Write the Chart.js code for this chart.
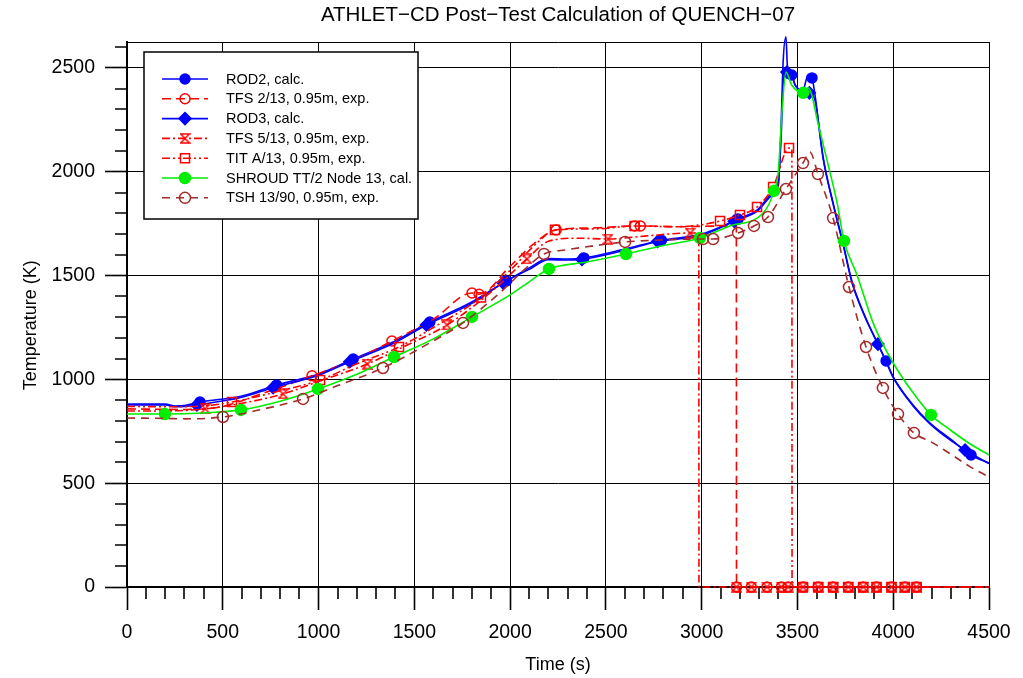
<!DOCTYPE html>
<html><head><meta charset="utf-8">
<script src="https://cdn.jsdelivr.net/npm/chart.js@4.4.0/dist/chart.umd.min.js"></script>
<style>html,body{margin:0;padding:0;background:#fff;overflow:hidden}</style>
</head><body>
<canvas id="c" width="1023" height="678"></canvas>
<script>
// ---------------- data ----------------
const rod2T = [0,200,250,300,381,600,781,1000,1181,1400,1581,1800,1981,2100,2200,2300,2385,2600,2790,3000,3190,3290,3373,3398,3414,3425,3440,3448,3470,3487,3529,3555,3576,3590,3634,3686,3738,3785,3850,3920,3963,4000,4100,4192,4300,4406,4500];
const rod2V = [881,881,872,874,891,920,973,1026,1098,1185,1276,1373,1474,1537,1582,1580,1585,1628,1670,1700,1772,1816,1898,1927,2201,2524,2650,2505,2466,2418,2394,2466,2452,2380,2071,1850,1657,1470,1310,1170,1089,1012,880,790,712,636,597];
const rod2M = [381,781,1181,1581,1981,2385,2790,3190,3470,3576,3963,4406];

const rod3T = [0,200,250,300,365,600,763,1000,1163,1400,1563,1800,1963,2100,2200,2300,2375,2600,2770,3000,3170,3290,3373,3398,3414,3428,3445,3470,3487,3529,3550,3562,3590,3634,3686,3738,3785,3850,3920,3963,4000,4100,4192,4300,4375,4500];
const rod3V = [877,877,869,870,877,914,960,1020,1085,1178,1262,1366,1465,1530,1576,1575,1578,1622,1664,1694,1762,1810,1890,1920,2150,2450,2480,2470,2420,2390,2400,2380,2350,2065,1845,1650,1465,1305,1170,1084,1008,876,786,706,660,594];
const rod3M = [365,763,1163,1563,1963,2375,2770,3170,3445,3562,3920,4375];

const tfs2T = [0,300,500,700,966,1200,1383,1600,1801,1838,2000,2120,2240,2450,2650,2680,2900,3050,3181,3182,3259,3341,3416,3451,3529,3608,3686,3765,3843,3913,3991,4061,4122,4500];
const tfs2V = [858,855,870,930,1017,1100,1185,1290,1416,1410,1545,1650,1720,1730,1739,1739,1735,1738,1735,0,0,0,0,0,0,0,0,0,0,0,0,0,0,0];
const tfs2M = [966,1383,1801,1838,2240,2650,2680,3182,3259,3341,3416,3451,3529,3608,3686,3765,3843,3913,3991,4061,4122];

const tfs5T = [0,200,408,600,815,1000,1254,1450,1670,1900,2088,2200,2350,2511,2700,2940,2985,2986,3181,3259,3341,3416,3451,3529,3608,3686,3765,3843,3913,3991,4061,4122,4500];
const tfs5V = [848,848,858,885,930,990,1074,1160,1262,1420,1580,1665,1680,1676,1690,1705,1705,0,0,0,0,0,0,0,0,0,0,0,0,0,0,0,0];
const tfs5M = [408,815,1254,1670,2088,2511,2940,3181,3259,3341,3416,3451,3529,3608,3686,3765,3843,3913,3991,4061,4122];

const titT = [0,200,400,548,800,1008,1200,1420,1600,1848,2000,2150,2234,2450,2650,2850,3000,3096,3200,3289,3373,3456,3471,3472,3529,3608,3686,3765,3843,3913,3991,4061,4122,4500];
const titV = [870,868,872,891,945,997,1075,1156,1250,1395,1525,1665,1720,1725,1739,1735,1745,1763,1792,1830,1927,2114,2110,0,0,0,0,0,0,0,0,0,0,0];
const titM = [548,1008,1420,1848,2234,2650,3096,3200,3289,3373,3456,3529,3608,3686,3765,3843,3913,3991,4061,4122];

const shrT = [0,198,400,595,800,997,1200,1394,1600,1801,2000,2100,2203,2400,2605,2800,2991,3150,3320,3378,3400,3420,3440,3470,3530,3555,3575,3600,3654,3707,3743,3811,3900,4000,4100,4197,4300,4400,4500];
const shrV = [833,833,838,853,895,954,1025,1108,1195,1301,1407,1470,1532,1565,1604,1645,1681,1740,1800,1908,2000,2300,2480,2418,2380,2404,2370,2264,2057,1850,1667,1503,1260,1079,940,829,755,690,636];
const shrM = [198,595,997,1394,1801,2203,2605,2991,3378,3530,3743,4197];

const tshT = [0,200,300,501,700,919,1100,1336,1550,1754,1950,2100,2177,2300,2450,2600,2800,3007,3060,3190,3273,3346,3440,3529,3565,3607,3686,3769,3858,3946,4025,4108,4200,4300,4400,4500];
const tshV = [814,812,810,819,855,906,970,1055,1160,1272,1420,1550,1604,1625,1645,1662,1672,1676,1676,1705,1739,1782,1917,2042,2095,1989,1777,1445,1156,959,833,742,698,640,580,530];
const tshM = [501,919,1336,1754,2177,2600,3007,3060,3190,3273,3346,3440,3529,3607,3686,3769,3858,3946,4025,4108];

const seriesLabels = ['ROD2, calc.','TFS 2/13, 0.95m, exp.','ROD3, calc.','TFS 5/13, 0.95m, exp.','TIT A/13, 0.95m, exp.','SHROUD TT/2 Node 13, cal.','TSH 13/90, 0.95m, exp.'];
const titleText = 'ATHLET\u2212CD Post\u2212Test Calculation of QUENCH\u221207';
const xTitle = 'Time (s)';
const yTitle = 'Temperature (K)\u2003\u2009';
const xMin = 0, xMax = 4500, yMin = 0, yMax = 2625;
const xTickValues = []; for (let v = 0; v <= 4500; v += 100) xTickValues.push(v);
const yTickValues = []; for (let v = 0; v <= 2600; v += 100) yTickValues.push(v); yTickValues.push(yMax);

// ---------------- helpers ----------------
const FONT = "'Liberation Sans', Arial, Helvetica, sans-serif";
function pts(T, V){ return T.map((t,i)=>({x:t, y:V[i]})); }
function markR(M, r){ return ctx => (ctx.raw && M.includes(ctx.raw.x)) ? r : 0; }
function hourglass(size, color, lw){
  const c = document.createElement('canvas'); c.width = size; c.height = size;
  const g = c.getContext('2d'); g.strokeStyle = color; g.lineWidth = lw;
  const p = lw/2 + 0.3, q = size - p;
  g.beginPath(); g.moveTo(p,p); g.lineTo(q,p); g.lineTo(p,q); g.lineTo(q,q); g.closePath(); g.stroke();
  return c;
}
const hg = hourglass(11, '#ff0000', 1.5);

const BLUE='#0000ff', RED='#ff0000', GREEN='#00ee00', BROWN='#a52a2a';
function ds(i, T, V, M, o){
  return {
    label: seriesLabels[i], data: pts(T,V), borderColor: o.color, borderWidth: o.width||1.6,
    borderDash: o.dash||[], pointStyle: o.style, pointRadius: markR(M, o.r),
    pointBackgroundColor: o.fill, pointBorderColor: o.color, pointBorderWidth: o.pbw||1.5,
    pointHoverRadius: 0, cubicInterpolationMode:'monotone', fill:false, clip:false, order: 6 - i,
    markerR: o.r
  };
}
const datasets = [
  ds(0, rod2T, rod2V, rod2M, {color:BLUE, style:'circle', r:5, fill:BLUE}),
  ds(1, tfs2T, tfs2V, tfs2M, {color:RED, dash:[9,5], style:'circle', r:5, fill:'rgba(0,0,0,0)'}),
  ds(2, rod3T, rod3V, rod3M, {color:BLUE, style:'rectRot', r:6, fill:BLUE}),
  ds(3, tfs5T, tfs5V, tfs5M, {color:RED, dash:[8,3,2,3], style:hg, r:5.5, fill:'rgba(0,0,0,0)'}),
  ds(4, titT, titV, titM, {color:RED, dash:[8,3,2,3,2,3], style:'rect', r:6.4, fill:'rgba(0,0,0,0)'}),
  ds(5, shrT, shrV, shrM, {color:GREEN, style:'circle', r:5.5, fill:GREEN}),
  ds(6, tshT, tshV, tshM, {color:BROWN, dash:[8,6], style:'circle', r:5.5, fill:'rgba(0,0,0,0)'})
];

function drawMarker(ctx, d, x, y){
  const r = d.markerR, st = d.pointStyle;
  if (st && typeof st === 'object'){ ctx.drawImage(st, x - st.width/2, y - st.height/2); return; }
  ctx.beginPath();
  if (st === 'circle') ctx.arc(x, y, r, 0, Math.PI*2);
  else if (st === 'rectRot'){ ctx.moveTo(x, y-r); ctx.lineTo(x+r, y); ctx.lineTo(x, y+r); ctx.lineTo(x-r, y); ctx.closePath(); }
  else if (st === 'rect'){ const h = r*Math.SQRT1_2; ctx.rect(x-h, y-h, 2*h, 2*h); }
  ctx.fillStyle = d.pointBackgroundColor; ctx.fill();
  ctx.strokeStyle = d.pointBorderColor; ctx.lineWidth = d.pointBorderWidth; ctx.stroke();
}

const boxLegend = {
  id:'boxLegend',
  afterDraw(chart){
    const ctx = chart.ctx;
    const L = 144, T = 52, R = 418, B = 219;
    ctx.save();
    ctx.fillStyle = '#fff'; ctx.fillRect(L, T, R-L, B-T);
    ctx.strokeStyle = '#000'; ctx.lineWidth = 1.5; ctx.setLineDash([]); ctx.strokeRect(L, T, R-L, B-T);
    chart.data.datasets.forEach((d, i) => {
      const y = 79 + i*19.8;
      ctx.setLineDash(d.borderDash || []); ctx.strokeStyle = d.borderColor; ctx.lineWidth = d.borderWidth;
      ctx.beginPath(); ctx.moveTo(162, y); ctx.lineTo(208, y); ctx.stroke();
      ctx.setLineDash([]);
      drawMarker(ctx, d, 185, y);
      ctx.fillStyle = '#000'; ctx.font = '14.5px ' + FONT; ctx.textBaseline = 'middle'; ctx.textAlign = 'left';
      ctx.fillText(d.label, 226, y + 0.5);
    });
    ctx.restore();
  }
};

const isMajX = v => v % 500 === 0;
const isMajY = v => v % 500 === 0;

new Chart(document.getElementById('c'), {
  type: 'line',
  data: { datasets },
  plugins: [boxLegend],
  options: {
    responsive: false, animation: false, events: [],
    layout: { padding: { left: 0, right: 34, top: 0, bottom: 0 } },
    plugins: {
      legend: { display: false }, tooltip: { enabled: false },
      title: { display: true, text: titleText, color: '#000', fullSize: false,
               font: { size: 20.5, family: FONT, weight: 'normal' }, padding: { top: 3, bottom: 14.4 } }
    },
    scales: {
      x: {
        type: 'linear', min: xMin, max: xMax,
        afterBuildTicks: s => { s.ticks = xTickValues.map(v => ({ value: v })); },
        afterFit: s => { s.height = 91; },
        ticks: { autoSkip: false, maxRotation: 0, minRotation: 0, padding: 11, color: '#000',
                 font: { size: 19.5, family: FONT }, callback: v => isMajX(v) ? String(v) : '' },
        grid: {
          color: c => (c.tick && isMajX(c.tick.value)) ? '#000' : 'rgba(0,0,0,0)',
          lineWidth: c => (c.tick && isMajX(c.tick.value)) ? 1 : 0,
          tickLength: 23, tickWidth: 1.6, tickColor: '#000',
          tickBorderDash: c => (c.tick && isMajX(c.tick.value)) ? [] : [11, 40]
        },
        border: { color: '#000', width: 2 },
        title: { display: true, text: xTitle, color: '#000', font: { size: 18, family: FONT }, padding: { top: 0, bottom: 2.2 } }
      },
      y: {
        type: 'linear', min: yMin, max: yMax,
        afterBuildTicks: s => { s.ticks = yTickValues.map(v => ({ value: v })); },
        afterFit: s => { s.width = 127; },
        ticks: { autoSkip: false, padding: 10, color: '#000', font: { size: 19.5, family: FONT },
                 callback: v => isMajY(v) ? String(v) : '' },
        grid: {
          color: c => (c.tick && (isMajY(c.tick.value) || c.tick.value === yMax)) ? '#000' : 'rgba(0,0,0,0)',
          lineWidth: c => (c.tick && (isMajY(c.tick.value) || c.tick.value === yMax)) ? 1 : 0,
          tickLength: 22, tickWidth: 1.6,
          tickColor: c => (c.tick && c.tick.value === yMax) ? 'rgba(0,0,0,0)' : '#000',
          tickBorderDash: c => (c.tick && isMajY(c.tick.value)) ? [] : [0, 10, 12, 40]
        },
        border: { color: '#000', width: 2 },
        title: { display: true, text: yTitle, color: '#000', font: { size: 18, family: FONT }, padding: { top: 20, bottom: 0 } }
      }
    }
  }
});
</script>
</body></html>
